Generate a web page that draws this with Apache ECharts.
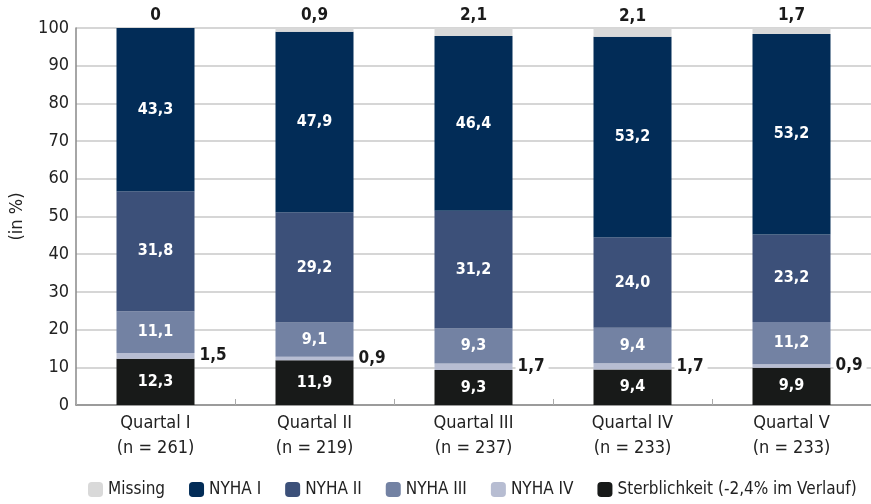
<!DOCTYPE html>
<html>
<head>
<meta charset="utf-8">
<script src="https://cdn.jsdelivr.net/npm/echarts@6/dist/echarts.min.js"></script>
<style>
  html, body { margin: 0; padding: 0; background: #fff; }
  #chart { width: 871px; height: 504px; }
</style>
</head>
<body>
<div id="chart"></div>
<script>
const categories = ['Quartal I\n(n = 261)', 'Quartal II\n(n = 219)', 'Quartal III\n(n = 237)', 'Quartal IV\n(n = 233)', 'Quartal V\n(n = 233)'];

// stacked bottom -> top
const sterblichkeit = [12.3, 11.9, 9.3, 9.4, 9.9];
const nyha4 = [1.5, 0.9, 1.7, 1.7, 0.9];
const nyha3 = [11.1, 9.1, 9.3, 9.4, 11.2];
const nyha2 = [31.8, 29.2, 31.2, 24.0, 23.2];
const nyha1 = [43.3, 47.9, 46.4, 53.2, 53.2];
const missing = [0, 0.9, 2.1, 2.1, 1.7];

const FONT = '"DejaVu Sans Condensed", "Liberation Sans Narrow", sans-serif';

const fmt = p => p.value === 0 ? '0' : p.value.toFixed(1).replace('.', ',');

const chart = echarts.init(document.getElementById('chart'));

const insideLabel = {
  show: true,
  position: 'inside',
  color: '#fff',
  fontWeight: 'bold',
  fontSize: 16,
  fontFamily: FONT,
  formatter: fmt
};

const bar = (name, data, color, label) => ({
  name: name,
  type: 'bar',
  stack: 'total',
  barWidth: 78,
  data: data,
  itemStyle: { color: color },
  label: label,
  emphasis: { disabled: true }
});

chart.setOption({
  animation: false,
  textStyle: { fontFamily: FONT },
  grid: { left: 71, right: -1, top: 28, bottom: 99, containLabel: false },
  legend: {
    bottom: 6,
    left: 88,
    right: 0,
    padding: 0,
    itemWidth: 15,
    itemHeight: 15,
    itemGap: 24,
    icon: 'roundRect',
    textStyle: { fontSize: 17, color: '#222', fontFamily: FONT },
    data: ['Missing', 'NYHA I', 'NYHA II', 'NYHA III', 'NYHA IV', 'Sterblichkeit (-2,4% im Verlauf)']
  },
  xAxis: {
    type: 'category',
    data: categories,
    axisLine: { lineStyle: { color: '#888', width: 1.5 } },
    axisTick: { show: true, inside: true, length: 6, lineStyle: { color: '#aaa' } },
    axisLabel: { fontSize: 18, color: '#222', lineHeight: 25, margin: 6, fontFamily: FONT }
  },
  yAxis: {
    type: 'value',
    min: 0,
    max: 100,
    interval: 10,
    name: '(in %)',
    nameLocation: 'middle',
    nameGap: 50,
    nameRotate: 90,
    nameTextStyle: { fontSize: 18, color: '#222', fontFamily: FONT },
    axisLine: { show: true, lineStyle: { color: '#888', width: 1.5 } },
    axisTick: { show: false },
    axisLabel: { fontSize: 18, color: '#222', margin: 7, fontFamily: FONT },
    splitLine: { lineStyle: { color: '#c8c8c8', width: 1.5 } }
  },
  series: [
    bar('Sterblichkeit (-2,4% im Verlauf)', sterblichkeit, '#181a19', insideLabel),
    bar('NYHA IV', nyha4, '#b7bdd2', {
      show: true,
      position: 'right',
      distance: 3,
      color: '#1a1a1a',
      fontWeight: 'bold',
      fontSize: 17,
      fontFamily: FONT,
      backgroundColor: '#fff',
      padding: [0, 4, 0, 2],
      formatter: fmt
    }),
    bar('NYHA III', nyha3, '#7382a3', insideLabel),
    bar('NYHA II', nyha2, '#3c5079', insideLabel),
    bar('NYHA I', nyha1, '#022c57', insideLabel),
    bar('Missing', missing, '#d9d9d9', {
      show: true,
      position: 'top',
      distance: 4,
      color: '#1a1a1a',
      fontWeight: 'bold',
      fontSize: 17,
      fontFamily: FONT,
      formatter: fmt
    })
  ]
});
</script>
</body>
</html>
